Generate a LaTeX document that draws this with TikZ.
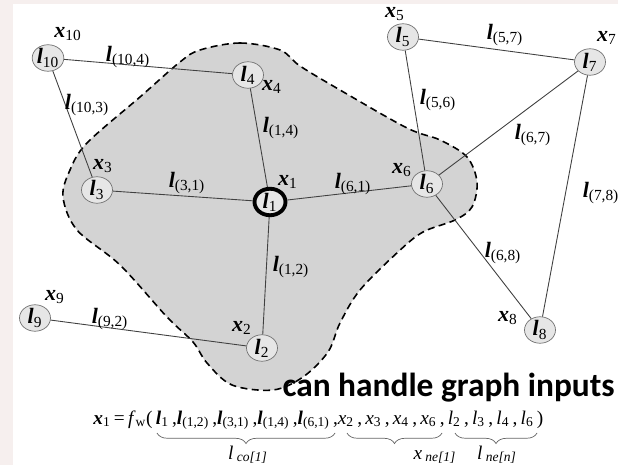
\documentclass[tikz,border=0pt]{standalone}
\usepackage{fontspec}
\setmainfont{Liberation Serif}
\newfontfamily\calib{Carlito}
\usetikzlibrary{shapes.geometric,decorations.pathreplacing}
\definecolor{blobgray}{HTML}{D3D3D3}
\definecolor{nodegray}{HTML}{E6E6E6}
\definecolor{slide}{HTML}{F6EFEE}
\newcommand{\lb}[2]{\textbf{\textit{#1}}\textsubscript{#2}}
\newcommand{\li}[2]{\textit{#1}\textsubscript{#2}}

\begin{document}
\begin{tikzpicture}[x=0.02cm,y=-0.02cm,
  vert/.style={ellipse,draw=black!55,fill=nodegray,inner sep=0pt,
    minimum width=0.62cm,minimum height=0.53cm,font=\fontsize{12.5}{14}\selectfont},
  edge/.style={draw=black!75,line width=0.5pt},
  lab/.style={font=\fontsize{12.5}{14}\selectfont,inner sep=1pt}]
  \useasboundingbox (0,0) rectangle (618,465);
  \fill[slide] (0,0) rectangle (618,465);
  \fill[white] (13,4) rectangle (618,465);
  \clip (0,0) rectangle (618,465);
  % neighbourhood of node 1
  \draw[fill=blobgray,line width=0.9pt,dash pattern=on 4pt off 2.5pt]
    plot[smooth cycle,tension=0.55] coordinates {
      (200,50) (240,43) (280,50) (300,66) (340,90) (407,128) (440,140)
      (467,157) (477,182) (472,207) (455,220) (423,232) (398,252)
      (360,290) (340,323) (328,352) (303,377) (273,390) (232,385)
      (207,363) (193,342) (167,317) (120,265) (77,230) (63,197)
      (70,170) (87,143) (140,97) (180,62)};
  % nodes
  \node[vert] (l10) at (48,58)   {\lb{l}{10}};
  \node[vert] (l4)  at (248,75)  {\lb{l}{4}};
  \node[vert] (l3)  at (97,190)  {\lb{l}{3}};
  \node[vert,draw=black,line width=2.2pt] (l1) at (270,202) {\lb{l}{1}};
  \node[vert] (l6)  at (427,184) {\lb{l}{6}};
  \node[vert] (l2)  at (262,348) {\lb{l}{2}};
  \node[vert] (l9)  at (35,318)  {\lb{l}{9}};
  \node[vert] (l5)  at (403,37)  {\lb{l}{5}};
  \node[vert] (l7)  at (590,62)  {\lb{l}{7}};
  \node[vert] (l8)  at (540,330) {\lb{l}{8}};
  % states
  \node[lab] (x10) at (68,34)   {\lb{x}{10}};
  \node[lab] (x4)  at (272,87)  {\lb{x}{4}};
  \node[lab] (x3)  at (103,166) {\lb{x}{3}};
  \node[lab] (x1)  at (288,182) {\lb{x}{1}};
  \node[lab] (x6)  at (402,170) {\lb{x}{6}};
  \node[lab] (x2)  at (242,328) {\lb{x}{2}};
  \node[lab] (x9)  at (55,297)  {\lb{x}{9}};
  \node[lab] (x5)  at (395,14)  {\lb{x}{5}};
  \node[lab] (x7)  at (607,38)  {\lb{x}{7}};
  \node[lab] (x8)  at (508,318) {\lb{x}{8}};
  % edges
  \draw[edge] (l10) -- (l4);
  \draw[edge] (l10) -- (l3);
  \draw[edge] (l4) -- (l1);
  \draw[edge] (l3) -- (l1);
  \draw[edge] (l6) -- (l1);
  \draw[edge] (l1) -- (l2);
  \draw[edge] (l9) -- (l2);
  \draw[edge] (l5) -- (l6);
  \draw[edge] (l5) -- (l7);
  \draw[edge] (l6) -- (l7);
  \draw[edge] (l7) -- (l8);
  \draw[edge] (l6) -- (l8);
  % edge labels
  \node[lab] (e104) at (128,57)  {\lb{l}{(10,4)}};
  \node[lab] (e103) at (87,105)  {\lb{l}{(10,3)}};
  \node[lab] (e14)  at (281,128) {\lb{l}{(1,4)}};
  \node[lab] (e31)  at (187,183) {\lb{l}{(3,1)}};
  \node[lab] (e61)  at (353,184) {\lb{l}{(6,1)}};
  \node[lab] (e12)  at (291,267) {\lb{l}{(1,2)}};
  \node[lab] (e92)  at (110,319) {\lb{l}{(9,2)}};
  \node[lab] (e56)  at (438,100) {\lb{l}{(5,6)}};
  \node[lab] (e57)  at (505,35)  {\lb{l}{(5,7)}};
  \node[lab] (e67)  at (533,135) {\lb{l}{(6,7)}};
  \node[lab] (e78)  at (601,193) {\lb{l}{(7,8)}};
  \node[lab] (e68)  at (503,253) {\lb{l}{(6,8)}};
  % transition function
  \node[anchor=base west,inner sep=0pt,font=\fontsize{11}{13}\selectfont] (fw) at (93,424)
    {\lb{x}{1}\,=\,\textit{f}\textsubscript{w}(\,\lb{l}{1}\,,\lb{l}{(1,2)}\,,\lb{l}{(3,1)}\,,\lb{l}{(1,4)}\,,\lb{l}{(6,1)}\,,\li{x}{2}\,,\,\li{x}{3}\,,\,\li{x}{4}\,,\,\li{x}{6}\,,\,\li{l}{2}\,,\,\li{l}{3}\,,\,\li{l}{4}\,,\,\li{l}{6}\,)};
  \draw[decorate,decoration={brace,amplitude=6pt},black!60] (335,433) -- (157,433);
  \draw[decorate,decoration={brace,amplitude=6pt},black!60] (442,433) -- (347,433);
  \draw[decorate,decoration={brace,amplitude=6pt},black!60] (537,433) -- (455,433);
  \node[anchor=base,inner sep=0pt,font=\fontsize{11}{13}\selectfont] (lco) at (248,459) {\textit{l}\,\textsubscript{\textit{co[1]}}};
  \node[anchor=base,inner sep=0pt,font=\fontsize{11}{13}\selectfont] (xne) at (435,459) {\textit{x}\,\textsubscript{\textit{ne[1]}}};
  \node[anchor=base,inner sep=0pt,font=\fontsize{11}{13}\selectfont] (lne) at (497,459) {\textit{l}\,\textsubscript{\textit{ne[n]}}};
  % caption
  \node[anchor=base east,inner sep=0pt,font=\calib\bfseries\fontsize{19}{19}\selectfont] (cap) at (615,397) {can handle graph inputs};
\end{tikzpicture}
\end{document}
